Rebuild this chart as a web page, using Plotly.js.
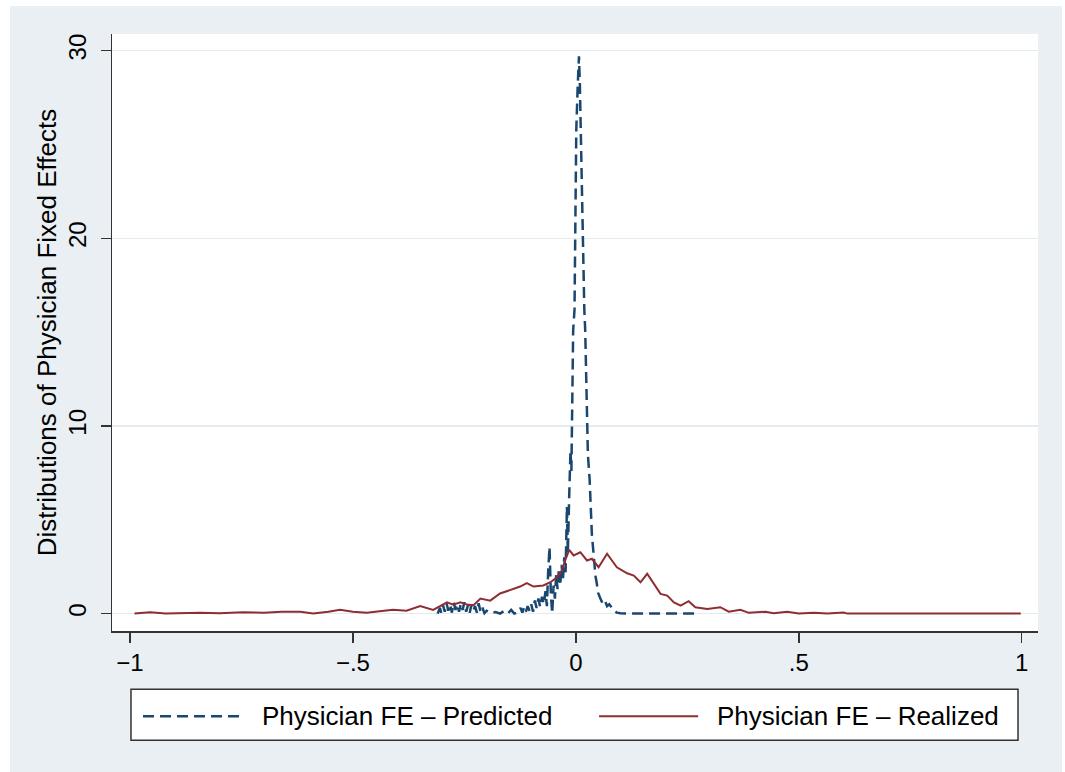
<!DOCTYPE html>
<html>
<head>
<meta charset="utf-8">
<script src="https://cdn.plot.ly/plotly-3.0.1.min.js"></script>
<style>
  html, body { margin: 0; padding: 0; background: #ffffff; }
  #chart { position: absolute; left: 10px; top: 6px; width: 1052px; height: 766px; }
</style>
</head>
<body>
<div id="chart"></div>
<script>
// ---- Data ----
const predictedX = [-0.31, -0.305, -0.302, -0.298, -0.294, -0.29, -0.286, -0.282, -0.278, -0.274,
  -0.27, -0.266, -0.262, -0.258, -0.254, -0.25, -0.246, -0.242, -0.238, -0.234,
  -0.23, -0.226, -0.222, -0.218, -0.214, -0.21, -0.205, -0.2, -0.19, -0.18,
  -0.17, -0.16, -0.152, -0.145, -0.138, -0.13, -0.124, -0.12, -0.116, -0.112,
  -0.108, -0.104, -0.1, -0.096, -0.092, -0.088, -0.084, -0.08, -0.076, -0.072,
  -0.068, -0.065, -0.062, -0.059, -0.056, -0.053, -0.05, -0.047, -0.044, -0.041,
  -0.038, -0.035, -0.032, -0.029, -0.026, -0.023, -0.02, -0.018, -0.015, -0.012,
  -0.01, -0.008, -0.006, -0.003, -0.001, 0.001, 0.004, 0.007, 0.009, 0.011,
  0.014, 0.016, 0.019, 0.021, 0.024, 0.027, 0.031, 0.033, 0.036, 0.039,
  0.041, 0.044, 0.047, 0.05, 0.055, 0.06, 0.065, 0.07, 0.075, 0.081,
  0.086, 0.092, 0.1, 0.12, 0.15, 0.2, 0.27];
const predictedY = [0, 0.3, 0.05, 0.45, 0.1, 0.55, 0.15, 0.5, 0.05, 0.6,
  0.2, 0.5, 0.1, 0.55, 0.2, 0.6, 0.1, 0.45, 0.05, 0.5,
  0.15, 0.4, 0.05, 0.55, 0.1, 0.35, 0.02, 0.15, 0.02, 0.08,
  0.0, 0.15, 0.02, 0.2, 0.0, 0.05, 0.3, 0.05, 0.35, 0.1,
  0.4, 0.15, 0.5, 0.1, 0.7, 0.3, 0.8, 0.35, 0.9, 0.5,
  1.2, 0.4, 2.3, 3.55, 1.0, 0.0, 1.5, 0.8, 2.1, 1.3,
  2.4, 1.5, 2.6, 1.8, 3.0, 2.2, 5.7, 3.2, 6.2, 8.7,
  7.6, 11.4, 15.1, 16.2, 20.4, 25.8, 28.0, 29.7, 28.2, 25.8,
  20.4, 17.8, 16.2, 15.1, 11.4, 8.5, 7.1, 5.7, 4.2, 3.4,
  2.6, 2.0, 1.6, 1.1, 0.8, 0.55, 0.7, 0.4, 0.5, 0.3,
  0.15, 0.05, 0.02, 0.0, 0.01, 0.0, 0.0];

const realizedX = [-0.99, -0.955, -0.92, -0.88, -0.843, -0.8, -0.746, -0.7, -0.66, -0.618,
  -0.589, -0.555, -0.529, -0.5, -0.469, -0.44, -0.41, -0.38, -0.349, -0.32,
  -0.304, -0.289, -0.275, -0.259, -0.244, -0.23, -0.214, -0.192, -0.17, -0.147,
  -0.125, -0.11, -0.095, -0.073, -0.057, -0.042, -0.031, -0.024, -0.015, -0.005,
  0.01, 0.025, 0.036, 0.051, 0.07, 0.092, 0.115, 0.13, 0.145, 0.16,
  0.175, 0.19, 0.205, 0.22, 0.235, 0.253, 0.268, 0.295, 0.324, 0.343,
  0.369, 0.388, 0.425, 0.444, 0.474, 0.5, 0.534, 0.564, 0.601, 0.609,
  0.65, 0.75, 0.85, 0.998];
const realizedY = [0, 0.07, 0.01, 0.02, 0.05, 0.02, 0.07, 0.04, 0.1, 0.1,
  0.0, 0.1, 0.2, 0.1, 0.05, 0.12, 0.2, 0.15, 0.4, 0.2,
  0.43, 0.6, 0.48, 0.6, 0.48, 0.43, 0.8, 0.69, 1.07, 1.28,
  1.44, 1.62, 1.44, 1.5, 1.67, 1.94, 2.3, 2.83, 3.4, 3.1,
  3.27, 2.83, 2.92, 2.47, 3.19, 2.47, 2.15, 2.03, 1.67, 2.12,
  1.58, 1.05, 0.96, 0.6, 0.42, 0.66, 0.34, 0.25, 0.34, 0.1,
  0.2, 0.04, 0.1, 0.02, 0.1, 0, 0.04, 0, 0.06, 0,
  0.01, 0, 0.01, 0];

const seriesNames = ['Physician FE \u2013 Predicted', 'Physician FE \u2013 Realized'];
const xTickVals = [-1, -0.5, 0, 0.5, 1];
const xTickText = ['\u22121', '\u2212.5', '0', '.5', '1'];
const yTickVals = [0, 10, 20, 30];
const yTickText = ['0', '10', '20', '30'];
const yTitle = 'Distributions of Physician Fixed Effects';

// ---- Styles ----
const BLUE = '#1a476f';
const RED = '#8e2d32';
const BG = '#e9eff2';
const DASH = '11px,6px';
const FONT = 'Liberation Sans, Arial, Helvetica, sans-serif';

const traces = [
  { x: predictedX, y: predictedY, type: 'scatter', mode: 'lines', name: seriesNames[0],
    line: { color: BLUE, width: 2.5, dash: DASH }, hoverinfo: 'skip' },
  { x: realizedX, y: realizedY, type: 'scatter', mode: 'lines', name: seriesNames[1],
    line: { color: RED, width: 2 }, hoverinfo: 'skip' }
];

// custom legend (box, line samples, labels) in paper coordinates
const legY = -0.143;
const layout = {
  width: 1052, height: 766,
  paper_bgcolor: BG,
  plot_bgcolor: '#ffffff',
  margin: { l: 102, r: 24, t: 28, b: 141, pad: 0 },
  showlegend: false,
  font: { family: FONT, size: 24, color: '#000' },
  xaxis: {
    range: [-1.0404, 1.0366],
    tickvals: xTickVals, ticktext: xTickText,
    ticks: 'outside', ticklen: 10, tickwidth: 1.5, tickcolor: '#333',
    showline: true, linecolor: '#333', linewidth: 1.5,
    showgrid: false, zeroline: false,
    tickfont: { family: FONT, size: 24, color: '#000' }
  },
  yaxis: {
    range: [-0.928, 30.89],
    tickvals: yTickVals, ticktext: yTickText,
    tickangle: -90,
    ticklabelstandoff: 5,
    ticks: 'outside', ticklen: 10, tickwidth: 1.5, tickcolor: '#333',
    showline: true, linecolor: '#333', linewidth: 1.5,
    showgrid: true, gridcolor: '#e3ebee', gridwidth: 1.5,
    zeroline: false,
    tickfont: { family: FONT, size: 24, color: '#000' },
    title: { text: yTitle, font: { family: FONT, size: 26, color: '#000' }, standoff: 0 }
  },
  shapes: [
    { type: 'rect', xref: 'paper', yref: 'paper', x0: 0.0205, x1: 0.9784, y0: -0.1831, y1: -0.0977,
      line: { color: '#333', width: 1.5 }, fillcolor: '#ffffff', layer: 'above' },
    { type: 'line', xref: 'paper', yref: 'paper', x0: 0.0335, x1: 0.1436, y0: legY, y1: legY,
      line: { color: BLUE, width: 2.5, dash: DASH } },
    { type: 'line', xref: 'paper', yref: 'paper', x0: 0.526, x1: 0.633, y0: legY, y1: legY,
      line: { color: RED, width: 2 } }
  ],
  annotations: [
    { xref: 'paper', yref: 'paper', x: 0.160, y: legY, xanchor: 'left', yanchor: 'middle',
      text: seriesNames[0], showarrow: false, font: { family: FONT, size: 26, color: '#000' } },
    { xref: 'paper', yref: 'paper', x: 0.651, y: legY, xanchor: 'left', yanchor: 'middle',
      text: seriesNames[1], showarrow: false, font: { family: FONT, size: 26, color: '#000' } }
  ]
};

Plotly.newPlot('chart', traces, layout, { displayModeBar: false, staticPlot: true });
</script>
</body>
</html>
